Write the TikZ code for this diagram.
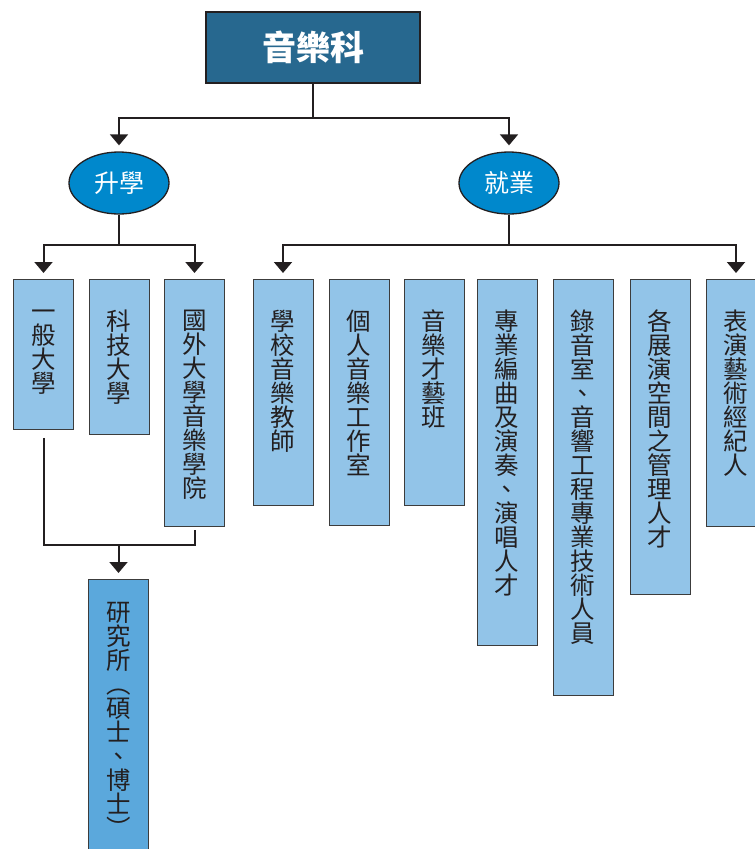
\documentclass[tikz,border=0pt]{standalone}
\usepackage{fontspec}
\setmainfont{Noto Sans CJK TC}
\usetikzlibrary{shapes.geometric,arrows.meta}

\definecolor{topblue}{RGB}{39,104,143}
\definecolor{ovalblue}{RGB}{0,136,204}
\definecolor{paleblue}{RGB}{146,196,232}
\definecolor{midblue}{RGB}{91,168,220}
\definecolor{edgegray}{RGB}{60,60,60}
\definecolor{inkgray}{RGB}{35,31,32}

\tikzset{
  headbox/.style={draw=inkgray, line width=1.5pt, fill=topblue, minimum width=214pt, minimum height=71pt, text=white, font=\fontsize{34}{34}\selectfont\bfseries},
  oval/.style={ellipse, draw=inkgray, line width=1.3pt, fill=ovalblue, minimum width=100pt, minimum height=62pt, inner sep=0pt, text=white, font=\fontsize{25}{25}\selectfont},
  post/.style={draw=edgegray, line width=0.9pt, fill=paleblue, minimum width=60pt, anchor=north},
  vtxt/.style={anchor=north, yshift=-31pt, inner sep=0pt, align=center, text=inkgray, font=\fontsize{24.5}{24}\selectfont},
  link/.style={draw=inkgray, line width=2pt},
  conn/.style={link, -{Triangle[width=18pt,length=11pt]}, shorten >=6pt},
}

\begin{document}
\begin{tikzpicture}[x=1pt,y=-1pt]
  \useasboundingbox (0,0) rectangle (755,849);
  \node[headbox] (music) at (313,47.5) {音樂科};
  \node[oval] (shengxue) at (119,183) {升學};
  \node[oval] (jiuye) at (509,183) {就業};

  % further study
  \node[post, minimum height=150pt, label={[vtxt]north:一\\般\\大\\學}] (yiban) at (43.5,279) {};
  \node[post, minimum height=155pt, label={[vtxt]north:科\\技\\大\\學}] (keji) at (119,279) {};
  \node[post, minimum height=247pt, label={[vtxt]north:國\\外\\大\\學\\音\\樂\\學\\院}] (guowai) at (194.5,279) {};
  \node[post, fill=midblue, minimum height=291pt, label={[vtxt, yshift=8pt]north:研\\究\\所\\︵\\碩\\士\\、\\博\\士\\︶}] (yjs) at (118.5,579) {};
  \coordinate (merge) at (118.5,545);

  % jobs
  \node[post, minimum height=226pt, label={[vtxt]north:學\\校\\音\\樂\\教\\師}] (jiaoshi) at (283,279) {};
  \node[post, minimum height=246pt, label={[vtxt]north:個\\人\\音\\樂\\工\\作\\室}] (gongzuo) at (359,279) {};
  \node[post, minimum height=226pt, label={[vtxt]north:音\\樂\\才\\藝\\班}] (caiyi) at (434,279) {};
  \node[post, minimum height=366pt, label={[vtxt]north:專\\業\\編\\曲\\及\\演\\奏\\、\\演\\唱\\人\\才}] (bianqu) at (507,279) {};
  \node[post, minimum height=416pt, label={[vtxt]north:錄\\音\\室\\、\\音\\響\\工\\程\\專\\業\\技\\術\\人\\員}] (luyin) at (583,279) {};
  \node[post, minimum height=315pt, label={[vtxt]north:各\\展\\演\\空\\間\\之\\管\\理\\人\\才}] (zhanyan) at (660,279) {};
  \node[post, minimum height=247pt, label={[vtxt]north:表\\演\\藝\\術\\經\\紀\\人}] (jingji) at (736,279) {};

  \draw[conn] (music.south) -- ++(0,34) -| (shengxue.north);
  \draw[conn] (music.south) -- ++(0,34) -| (jiuye.north);
  \draw[conn] (shengxue.south) -- ++(0,30) -| (yiban.north);
  \draw[conn] (shengxue.south) -- ++(0,30) -| (guowai.north);
  \draw[link] ([yshift=-8pt]yiban.south) |- (merge) -| ([yshift=-3pt]guowai.south);
  \draw[conn] (merge) -- (yjs.north);
  \draw[conn] (jiuye.south) -- ++(0,30) -| (jiaoshi.north);
  \draw[conn] (jiuye.south) -- ++(0,30) -| (jingji.north);
\end{tikzpicture}
\end{document}
